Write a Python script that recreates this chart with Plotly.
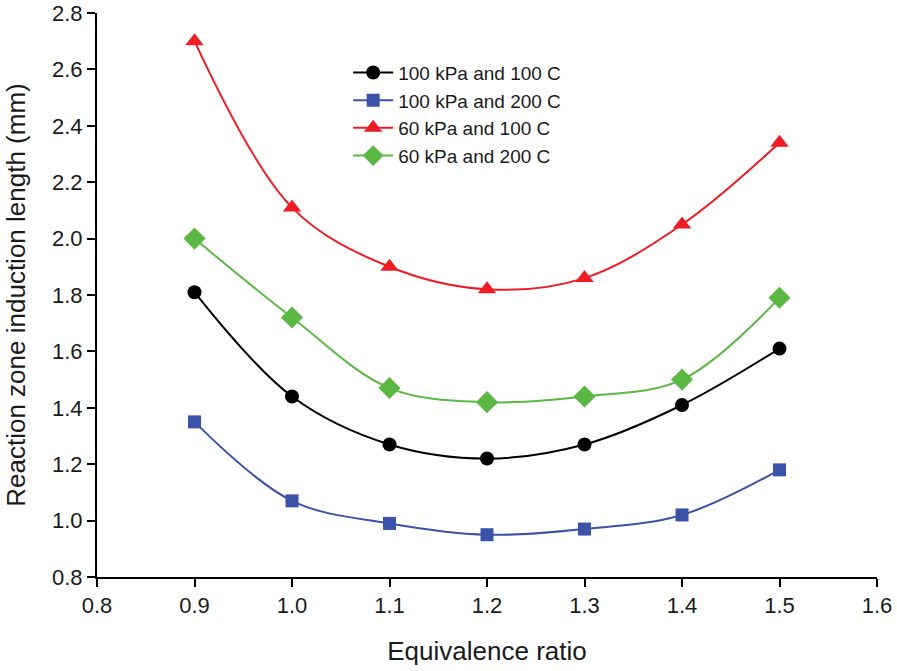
import plotly.graph_objects as go

x_vals = [0.9, 1.0, 1.1, 1.2, 1.3, 1.4, 1.5]
s_100kpa_100c = [1.81, 1.44, 1.27, 1.22, 1.27, 1.41, 1.61]
s_100kpa_200c = [1.35, 1.07, 0.99, 0.95, 0.97, 1.02, 1.18]
s_60kpa_100c = [2.70, 2.11, 1.90, 1.82, 1.86, 2.05, 2.34]
s_60kpa_200c = [2.00, 1.72, 1.47, 1.42, 1.44, 1.50, 1.79]

names = ["100 kPa and 100 C", "100 kPa and 200 C", "60 kPa and 100 C", "60 kPa and 200 C"]
series = [s_100kpa_100c, s_100kpa_200c, s_60kpa_100c, s_60kpa_200c]
colors = ["#000000", "#3a52a8", "#ee1c24", "#5bb844"]
symbols = ["circle", "square", "triangle-up", "diamond"]
sizes = [14, 13, 16, 17]

fig = go.Figure()
for n, s, c, sym, sz in zip(names, series, colors, symbols, sizes):
    fig.add_trace(go.Scatter(
        x=x_vals, y=s, name=n, mode="lines+markers",
        line=dict(color=c, width=2, shape="spline", smoothing=1.0),
        marker=dict(color=c, symbol=sym, size=sz),
        cliponaxis=False,
    ))

font_family = "Liberation Sans, Arial, sans-serif"
txt = "#1a1a1a"
fig.update_layout(
    width=897, height=671,
    margin=dict(l=97, r=20, t=13, b=94, autoexpand=False),
    paper_bgcolor="white", plot_bgcolor="white",
    font=dict(family=font_family, color=txt),
    showlegend=True,
    legend=dict(x=0.322, y=0.928, xanchor="left", yanchor="top",
                font=dict(size=19, color=txt), bgcolor="rgba(0,0,0,0)",
                tracegroupgap=0, itemwidth=40),
    xaxis=dict(range=[0.8, 1.6], dtick=0.1, tick0=0.8, tickformat=".1f",
               automargin=False,
               showgrid=False, zeroline=False, showline=True, linecolor="black",
               linewidth=2, ticks="outside", ticklen=8, tickwidth=2, tickcolor="black",
               tickfont=dict(size=22, color=txt),
               title=dict(text="Equivalence ratio", font=dict(size=26, color=txt), standoff=24)),
    yaxis=dict(range=[0.8, 2.8], dtick=0.2, tick0=0.8, tickformat=".1f",
               automargin=False,
               showgrid=False, zeroline=False, showline=True, linecolor="black",
               linewidth=2, ticks="outside", ticklen=8, tickwidth=2, tickcolor="black",
               tickfont=dict(size=22, color=txt),
               title=dict(text="Reaction zone induction length (mm)", font=dict(size=26, color=txt), standoff=19)),
)

fig.write_html("out.html")
